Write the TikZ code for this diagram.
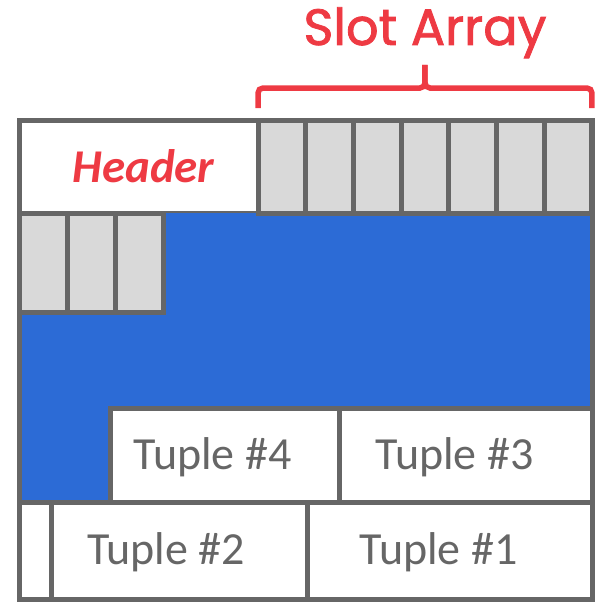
\documentclass[tikz,border=0pt]{standalone}
\usepackage{fontspec}
\setmainfont{Carlito}
\newfontfamily\titlefont[FakeBold=1.6]{Poppins}
\usetikzlibrary{positioning,calc}
\definecolor{slotred}{RGB}{238,58,67}
\definecolor{framegray}{RGB}{102,102,102}
\definecolor{slotgray}{RGB}{217,217,217}
\definecolor{freeblue}{RGB}{44,107,214}
\begin{document}
\begin{tikzpicture}[x=1pt, y=-1pt]
		\tikzstyle{cellbox} = [rectangle, draw=framegray, line width=5pt, outer sep=0pt, inner sep=0pt];
		\tikzstyle{slotbox} = [cellbox, fill=slotgray, minimum width=47.71pt, minimum height=93pt];
		\tikzstyle{slotbox2} = [cellbox, fill=slotgray, minimum width=48pt, minimum height=99pt];
		\tikzstyle{tuplebox} = [cellbox, fill=white, minimum height=94pt];
		\tikzstyle{tuplebox2} = [cellbox, fill=white, minimum height=97pt];
		\tikzstyle{tupletext} = [anchor=base, inner sep=0pt, text=framegray, font=\fontsize{46}{50}\selectfont];
		\tikzstyle{brace} = [draw=slotred, line width=5.5pt, rounded corners=5pt];
		\useasboundingbox (0,0) rectangle (596,602);
		\node (page) [rectangle, fill=white, outer sep=0pt, inner sep=0pt, minimum width=573pt, minimum height=479pt, anchor=north west] at (19,120) {};
		\node (header) [cellbox, fill=white, minimum width=239pt, minimum height=93pt, below right=0pt and 0pt of page.north west] {};
		\node (free) [rectangle, fill=freeblue, outer sep=0pt, inner sep=0pt, minimum width=573pt, minimum height=289pt, below right=0pt and 0pt of header.south west] {};
		% slot array
		\node (slotA) [slotbox, right=0pt of header] {};
		\node (slotB) [slotbox, right=0pt of slotA] {};
		\node (slotC) [slotbox, right=0pt of slotB] {};
		\node (slotD) [slotbox, right=0pt of slotC] {};
		\node (slotE) [slotbox, right=0pt of slotD] {};
		\node (slotF) [slotbox, right=0pt of slotE] {};
		\node (slotG) [slotbox, right=0pt of slotF] {};
		\node (slotH) [slotbox2, below right=0pt and 0pt of header.south west] {};
		\node (slotI) [slotbox2, right=0pt of slotH] {};
		\node (slotJ) [slotbox2, right=0pt of slotI] {};
		% tuples
		\node (gap) [tuplebox2, minimum width=32pt, above right=0pt and 0pt of page.south west] {};
		\node (tuple2) [tuplebox2, minimum width=256pt, right=0pt of gap] {};
		\node (tuple1) [tuplebox2, minimum width=285pt, right=0pt of tuple2] {};
		\node (tuple3) [tuplebox, minimum width=253pt, above left=0pt and 0pt of tuple1.north east] {};
		\node (tuple4) [tuplebox, minimum width=229pt, left=0pt of tuple3] {};
		\node (tuple4l) [tupletext, xshift=-12pt, yshift=-14pt] at (tuple4) {Tuple \#4};
		\node (tuple3l) [tupletext, xshift=-11pt, yshift=-14pt] at (tuple3) {Tuple \#3};
		\node (tuple2l) [tupletext, xshift=-13pt, yshift=-14pt] at (tuple2) {Tuple \#2};
		\node (tuple1l) [tupletext, xshift=-11pt, yshift=-14pt] at (tuple1) {Tuple \#1};
		\node (headerl) [anchor=base, inner sep=0pt, text=slotred, font=\fontsize{47}{50}\selectfont\bfseries\itshape, xshift=5pt, yshift=-16pt] at (header) {Header};
		\draw[cellbox] (page.north west) rectangle (page.south east);
		% brace
		\coordinate (bracemid) at ($(slotA.north west)!0.5!(slotG.north east)$);
		\draw[brace] ([yshift=12pt]slotA.north west) -- ([yshift=32pt]slotA.north west) -- ([yshift=32pt]bracemid) -- ([yshift=55pt]bracemid);
		\draw[brace] ([yshift=12pt]slotG.north east) -- ([yshift=32pt]slotG.north east) -- ([yshift=32pt]bracemid) -- ([yshift=55pt]bracemid);
		\node (slotarray) [anchor=base, inner sep=0pt, text=slotred, font=\fontsize{51}{56}\titlefont] at ([yshift=75pt]bracemid) {Slot Array};
	\end{tikzpicture}
\end{document}
